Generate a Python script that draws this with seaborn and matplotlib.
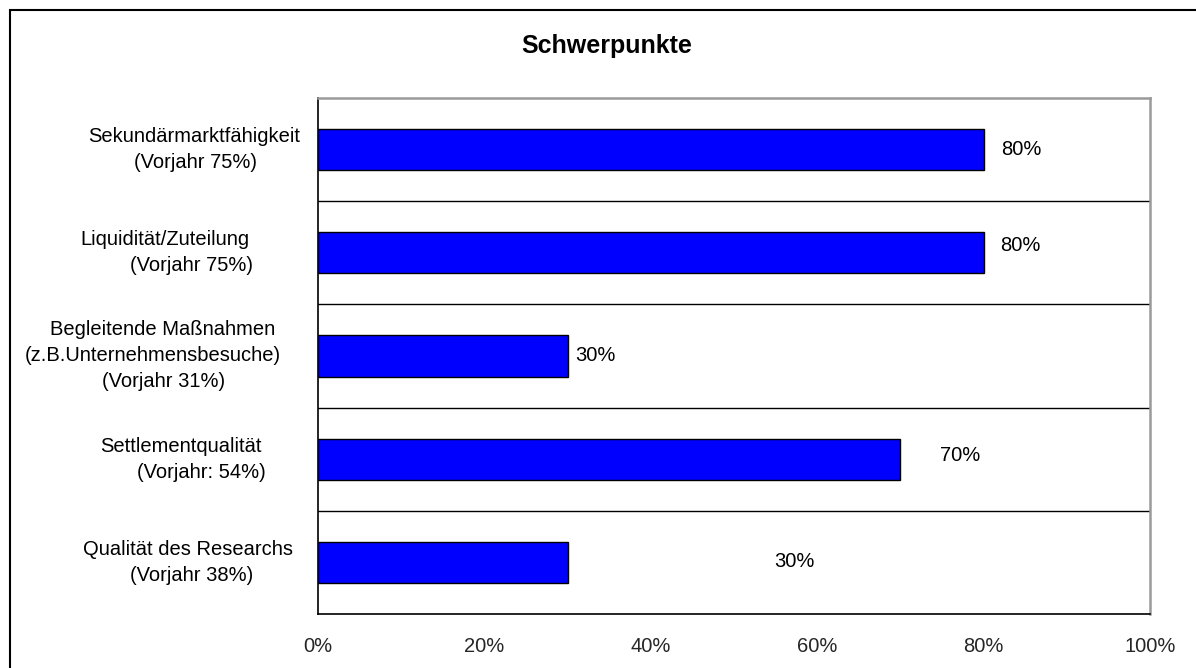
import matplotlib
matplotlib.use("Agg")
import matplotlib.pyplot as plt
import seaborn as sns
import pandas as pd
from matplotlib.patches import Rectangle
from matplotlib.ticker import FuncFormatter
from matplotlib.transforms import blended_transform_factory

# Data
categories = [
    "Sekundärmarktfähigkeit",
    "Liquidität/Zuteilung",
    "Begleitende Maßnahmen",
    "Settlementqualität",
    "Qualität des Researchs",
]
label_lines = [
    ["Sekundärmarktfähigkeit", "(Vorjahr 75%)"],
    ["Liquidität/Zuteilung", "(Vorjahr 75%)"],
    ["Begleitende Maßnahmen", "(z.B.Unternehmensbesuche)", "(Vorjahr 31%)"],
    ["Settlementqualität", "(Vorjahr: 54%)"],
    ["Qualität des Researchs", "(Vorjahr 38%)"],
]
values = [80, 80, 30, 70, 30]
x_ticks = [0, 20, 40, 60, 80, 100]
title = "Schwerpunkte"

# Layout: horizontal centres (px) of each category label line, value label placement
line_centers_px = [
    [194, 196],
    [165, 192],
    [163, 153, 164],
    [181, 201],
    [188, 192],
]
value_label_x = [84.5, 84.4, 33.3, 77.2, 57.3]
value_label_dy = [0.0, -0.075, 0.0, -0.04, -0.01]

W, H = 1196, 668
sns.set_style("white")
plt.rcParams["font.family"] = ["Liberation Sans", "DejaVu Sans"]
FS = 14.5

fig = plt.figure(figsize=(W / 100, H / 100), dpi=100)
ax = fig.add_axes([318 / W, 1 - 614 / H, (1150 - 318) / W, (614 - 98) / H])

df = pd.DataFrame({"Kategorie": categories, "Wert": values})
sns.barplot(data=df, x="Wert", y="Kategorie", orient="h", color="#0000FF",
            saturation=1, edgecolor="black", linewidth=1, width=0.4, ax=ax)

n = len(categories)
ax.set_xlim(0, 100)
ax.set_ylim(n - 0.5, -0.5)
bounds = [i - 0.5 for i in range(n + 1)]
ax.set_yticks(bounds)
ax.set_yticklabels([""] * len(bounds))
for b in bounds[1:-1]:
    ax.axhline(b, color="black", lw=1, zorder=0.5)

ax.set_xticks(x_ticks)
ax.xaxis.set_major_formatter(FuncFormatter(lambda v, p: f"{v:.0f}%"))
ax.tick_params(axis="x", direction="out", length=6, width=1, color="black",
               labelsize=FS, pad=10.5)
ax.tick_params(axis="y", direction="out", length=6, width=1, color="black")
ax.set_xlabel("")
ax.set_ylabel("")

for side in ["left", "bottom"]:
    ax.spines[side].set_color("black")
    ax.spines[side].set_linewidth(1.2)
for side in ["top", "right"]:
    ax.spines[side].set_color("#9a9a9a")
    ax.spines[side].set_linewidth(1.8)

# Value labels
for i, v in enumerate(values):
    ax.text(value_label_x[i], i + value_label_dy[i], f"{v}%", ha="center",
            va="center", fontsize=FS, color="black")

# Category labels, one text per line
line_gap = 26 / 103.2
mixed = blended_transform_factory(fig.transFigure, ax.transData)
for i, lines in enumerate(label_lines):
    k = len(lines)
    for j, line in enumerate(lines):
        y = i + (j - (k - 1) / 2) * line_gap
        xc = line_centers_px[i][j] / W
        ax.text(xc, y, line, ha="center", va="center", fontsize=FS,
                color="black", transform=mixed, clip_on=False)

fig.text(607 / W, 1 - 46 / H, title, ha="center", va="center",
         fontsize=18, fontweight="bold", color="black")

# Chart frame
fig.patches.append(Rectangle((10 / W, -0.2), 1.5, 1.2 - 10 / H,
                             transform=fig.transFigure, fill=False,
                             edgecolor="black", lw=1.5))

fig.savefig("out.png", dpi=100, facecolor="white")
